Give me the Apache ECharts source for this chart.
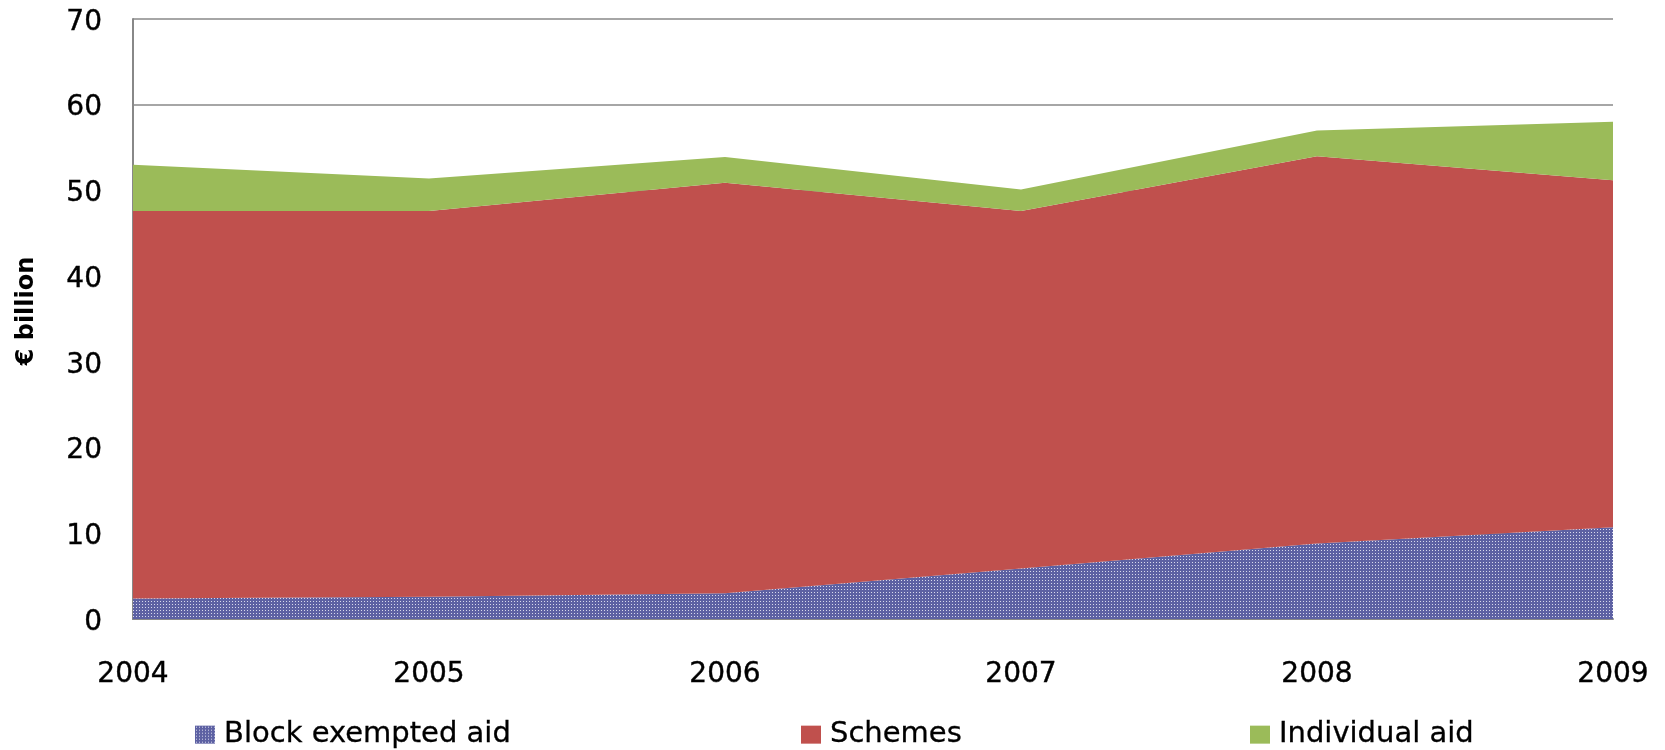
<!DOCTYPE html>
<html><head><meta charset="utf-8">
<script src="https://cdn.jsdelivr.net/npm/echarts@6/dist/echarts.min.js"></script>
<style>html,body{margin:0;padding:0;background:#fff}#c{width:1665px;height:750px}</style>
</head><body><div id="c"></div>
<script>
const years = ['2004','2005','2006','2007','2008','2009'];
const blockExempted = [2.4, 2.6, 3.0, 5.9, 8.8, 10.7];
const schemes = [45.2, 45.0, 47.9, 41.7, 45.2, 40.5];
const individual = [5.4, 3.8, 3.0, 2.5, 3.0, 6.8];
const yTicks = [0, 10, 20, 30, 40, 50, 60, 70];
const seriesNames = ['Block exempted aid', 'Schemes', 'Individual aid'];

function makePattern() {
  const c = document.createElement('canvas');
  c.width = 3; c.height = 3;
  const g = c.getContext('2d');
  g.fillStyle = '#5d61a3';
  g.fillRect(0, 0, 3, 3);
  g.fillStyle = '#d8d9ec';
  g.fillRect(1, 1, 1, 1);
  return c;
}
const pat = {image: makePattern(), repeat: 'repeat'};
const font = 'DejaVu Sans';
const legendLefts = [190, 796, 1245];
const legendBase = {
  top: 715, itemWidth: 20, itemHeight: 18, icon: 'rect',
  textStyle: {fontFamily: font, fontSize: 29, color: '#000', padding: [0, 0, 0, 4],
    textBorderColor: '#000', textBorderWidth: 0.3}
};
const labelStyle = {fontFamily: font, fontSize: 28, color: '#000',
  textBorderColor: '#000', textBorderWidth: 0.4};
const chart = echarts.init(document.getElementById('c'));
chart.setOption({
  animation: false,
  grid: {left: 133, right: 52, top: 19, bottom: 131},
  legend: seriesNames.map((n, i) => Object.assign({}, legendBase, {
    left: legendLefts[i],
    data: [i === 0 ? {name: n, itemStyle: {color: pat}} : {name: n}]
  })),
  xAxis: {
    type: 'category', data: years, boundaryGap: false,
    axisLine: {lineStyle: {color: '#888', width: 2}},
    axisTick: {show: false},
    axisLabel: Object.assign({margin: 42}, labelStyle)
  },
  yAxis: {
    type: 'value', min: 0, max: 70, interval: 10,
    name: '€ billion', nameLocation: 'middle', nameGap: 94, nameRotate: 90,
    nameTextStyle: {fontFamily: font, fontSize: 24, fontWeight: 'bold', color: '#000',
      padding: [0, 0, 0, 16]},
    axisLine: {show: true, lineStyle: {color: '#888', width: 2}},
    axisTick: {show: false},
    axisLabel: Object.assign({margin: 31,
      formatter: v => yTicks.includes(v) ? '{a|' + v + '}' : '',
      rich: {a: Object.assign({padding: [7, 0, 0, 0]}, labelStyle)}}, labelStyle),
    splitLine: {lineStyle: {color: '#888', width: 1.5}}
  },
  series: [
    {name: seriesNames[0], type: 'line', stack: 'a', data: blockExempted,
      symbol: 'none', lineStyle: {width: 0}, itemStyle: {color: '#6a6eae'},
      areaStyle: {color: pat, opacity: 1}},
    {name: seriesNames[1], type: 'line', stack: 'a', data: schemes,
      symbol: 'none', lineStyle: {width: 0}, itemStyle: {color: '#c0504d'},
      areaStyle: {color: '#c0504d', opacity: 1}},
    {name: seriesNames[2], type: 'line', stack: 'a', data: individual,
      symbol: 'none', lineStyle: {width: 0}, itemStyle: {color: '#9bbb59'},
      areaStyle: {color: '#9bbb59', opacity: 1}}
  ]
});
</script></body></html>
